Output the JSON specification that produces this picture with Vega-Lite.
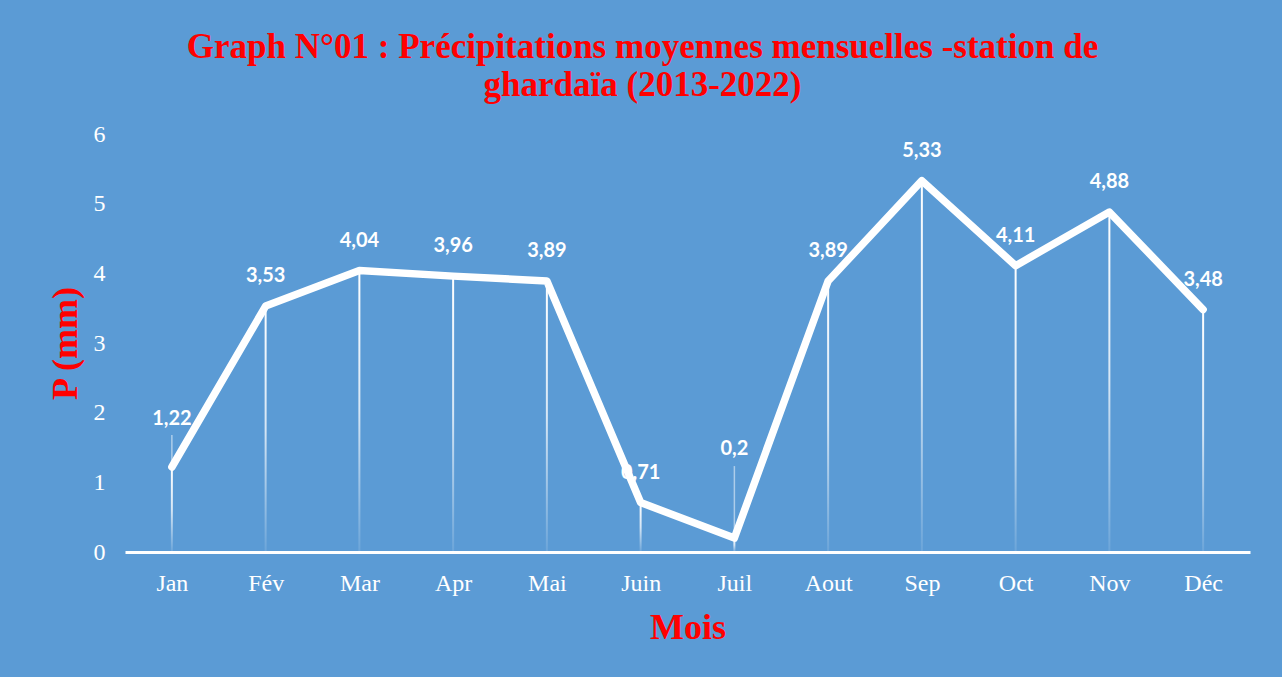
{
  "$schema": "https://vega.github.io/schema/vega-lite/v6.json",
  "width": 1125,
  "height": 418,
  "autosize": "none",
  "padding": {"left": 125, "top": 134, "right": 32, "bottom": 125},
  "background": "#5B9BD5",
  "config": {
    "view": {"stroke": null},
    "locale": {"number": {"decimal": ",", "thousands": " ", "grouping": [3], "currency": ["", " €"]}}
  },
  "title": {
    "text": ["Graph N°01 : Précipitations moyennes mensuelles -station de", "ghardaïa (2013-2022)"],
    "font": "Liberation Serif",
    "fontSize": 35,
    "fontWeight": "bold",
    "color": "#FF0000",
    "lineHeight": 38,
    "anchor": "middle",
    "dx": -45,
    "offset": 19
  },
  "data": {
    "values": [
      {"mois": "Jan", "p": 1.22},
      {"mois": "Fév", "p": 3.53},
      {"mois": "Mar", "p": 4.04},
      {"mois": "Apr", "p": 3.96},
      {"mois": "Mai", "p": 3.89},
      {"mois": "Juin", "p": 0.71},
      {"mois": "Juil", "p": 0.2},
      {"mois": "Aout", "p": 3.89},
      {"mois": "Sep", "p": 5.33},
      {"mois": "Oct", "p": 4.11},
      {"mois": "Nov", "p": 4.88},
      {"mois": "Déc", "p": 3.48}
    ]
  },
  "encoding": {
    "x": {
      "field": "mois",
      "type": "nominal",
      "sort": null,
      "scale": {"type": "point", "padding": 0.5},
      "axis": {
        "title": "Mois",
        "titleFont": "Liberation Serif",
        "titleFontSize": 36,
        "titleFontWeight": "bold",
        "titleColor": "#FF0000",
        "titleBaseline": "alphabetic",
        "titleY": 86,
        "labelAngle": 0,
        "labelFont": "Liberation Serif",
        "labelFontSize": 24,
        "labelColor": "#FFFFFF",
        "labelBaseline": "alphabetic",
        "labelPadding": 38,
        "ticks": false,
        "tickSize": 0,
        "domainColor": "#FFFFFF",
        "domainWidth": 3,
        "grid": false
      }
    },
    "y": {
      "field": "p",
      "type": "quantitative",
      "scale": {"domain": [0, 6], "nice": false},
      "axis": {
        "title": "P (mm)",
        "titleFont": "Liberation Serif",
        "titleFontSize": 36,
        "titleFontWeight": "bold",
        "titleColor": "#FF0000",
        "titleAngle": -90,
        "titleBaseline": "middle",
        "titleX": -60,
        "values": [0, 1, 2, 3, 4, 5, 6],
        "labelFont": "Liberation Serif",
        "labelFontSize": 24,
        "labelColor": "#FFFFFF",
        "labelPadding": 20,
        "ticks": false,
        "tickSize": 0,
        "domain": false,
        "grid": false
      }
    }
  },
  "layer": [
    {
      "mark": {
        "type": "bar",
        "width": 2,
        "fill": {
          "gradient": "linear",
          "x1": 0, "y1": 0, "x2": 0, "y2": 1,
          "stops": [
            {"offset": 0, "color": "rgba(255,255,255,1)"},
            {"offset": 0.5, "color": "rgba(255,255,255,0.75)"},
            {"offset": 1, "color": "rgba(255,255,255,0.1)"}
          ]
        }
      }
    },
    {
      "transform": [{"filter": "datum.mois === 'Jan'"}],
      "mark": {"type": "rule", "stroke": "#FFFFFF", "strokeOpacity": 0.5, "strokeWidth": 1.5, "y2Offset": -32},
      "encoding": {"y2": {"field": "p"}}
    },
    {
      "transform": [{"filter": "datum.mois === 'Juil'"}],
      "mark": {"type": "rule", "stroke": "#FFFFFF", "strokeOpacity": 0.5, "strokeWidth": 1.5, "y2Offset": -72},
      "encoding": {"y2": {"field": "p"}}
    },
    {
      "mark": {"type": "line", "stroke": "#FFFFFF", "strokeWidth": 7.5, "strokeJoin": "round", "strokeCap": "round"}
    },
    {
      "transform": [{"filter": "datum.mois !== 'Jan' && datum.mois !== 'Juil'"}],
      "mark": {"type": "text", "font": "Lato", "fontWeight": "bold", "fontSize": 20, "color": "#FFFFFF", "baseline": "alphabetic", "dy": -24},
      "encoding": {"text": {"field": "p", "type": "quantitative", "format": "~g"}}
    },
    {
      "transform": [{"filter": "datum.mois === 'Jan'"}],
      "mark": {"type": "text", "font": "Lato", "fontWeight": "bold", "fontSize": 20, "color": "#FFFFFF", "baseline": "alphabetic", "dy": -42},
      "encoding": {"text": {"field": "p", "type": "quantitative", "format": "~g"}}
    },
    {
      "transform": [{"filter": "datum.mois === 'Juil'"}],
      "mark": {"type": "text", "font": "Lato", "fontWeight": "bold", "fontSize": 20, "color": "#FFFFFF", "baseline": "alphabetic", "dy": -83},
      "encoding": {"text": {"field": "p", "type": "quantitative", "format": "~g"}}
    }
  ]
}
